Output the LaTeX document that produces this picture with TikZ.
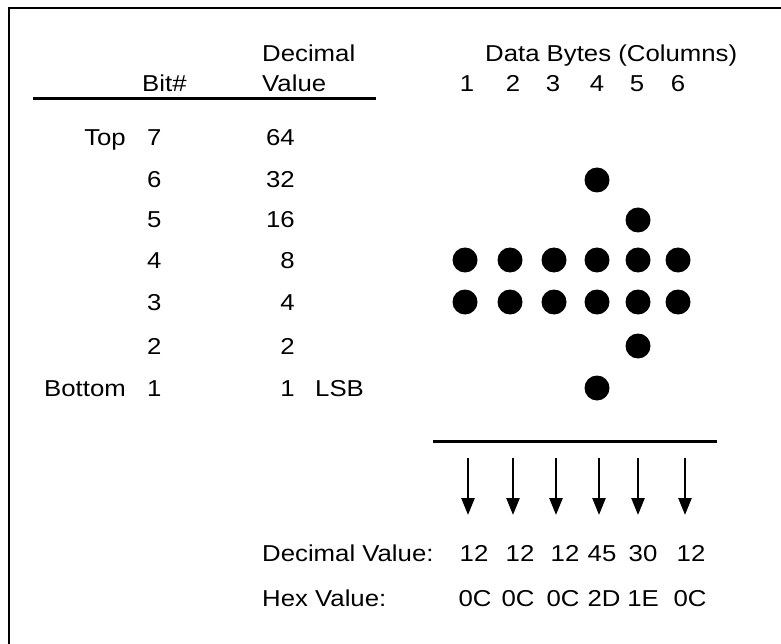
\documentclass[tikz,border=0pt]{standalone}
\usepackage{fontspec}
\setmainfont[FakeStretch=1.12]{Liberation Sans}
\usetikzlibrary{arrows.meta}

\begin{document}
\begin{tikzpicture}[
    x=1pt, y=-1pt,
    every node/.style={inner sep=0pt, font=\fontsize{23}{27}\selectfont},
    txt/.style={anchor=base west},
    num/.style={anchor=base east},
    colnum/.style={anchor=base},
    dot/.style={circle, fill=black, minimum size=25pt, inner sep=0pt},
    rule/.style={line width=3pt},
    arrow/.style={-{Triangle[width=13pt,length=17pt]}, line width=2.5pt}
]
\useasboundingbox (0,0) rectangle (781,644);

% Frame
\draw[line width=2.5pt] (9,644) -- (9,8) -- (781,8);

% Table header
\node[txt] (hdbit) at (142,92) {Bit\#};
\node[txt] (hddec) at (262,62) {Decimal};
\node[txt] (hdval) at (262,92) {Value};
\draw[rule] (33,99) -- (376,99);

% Bit rows
\node[num] (top) at (126,146) {Top};
\node[txt] (bit7) at (147,146) {7};
\node[num] (val7) at (295,146) {64};
\node[txt] (bit6) at (147,188) {6};
\node[num] (val6) at (295,188) {32};
\node[txt] (bit5) at (147,228) {5};
\node[num] (val5) at (295,228) {16};
\node[txt] (bit4) at (147,269) {4};
\node[num] (val4) at (295,269) {8};
\node[txt] (bit3) at (147,310) {3};
\node[num] (val3) at (295,310) {4};
\node[txt] (bit2) at (147,354) {2};
\node[num] (val2) at (295,354) {2};
\node[num] (bottom) at (126,396) {Bottom};
\node[txt] (bit1) at (147,396) {1};
\node[num] (val1) at (295,396) {1};
\node[txt] (lsb) at (315,396) {LSB};

% Column header
\node[txt] (hddata) at (485,62) {Data Bytes (Columns)};
\node[colnum] (col1) at (467,92) {1};
\node[colnum] (col2) at (513,92) {2};
\node[colnum] (col3) at (553,92) {3};
\node[colnum] (col4) at (597,92) {4};
\node[colnum] (col5) at (637,92) {5};
\node[colnum] (col6) at (678,92) {6};

% Dots
\node[dot] (dot64) at (597,180) {};
\node[dot] (dot55) at (638,220) {};
\node[dot] (dot41) at (465,260) {};
\node[dot] (dot42) at (510,260) {};
\node[dot] (dot43) at (554,260) {};
\node[dot] (dot44) at (597,260) {};
\node[dot] (dot45) at (638,260) {};
\node[dot] (dot46) at (678,260) {};
\node[dot] (dot31) at (465,302) {};
\node[dot] (dot32) at (510,302) {};
\node[dot] (dot33) at (554,302) {};
\node[dot] (dot34) at (597,302) {};
\node[dot] (dot35) at (638,302) {};
\node[dot] (dot36) at (678,302) {};
\node[dot] (dot25) at (638,346) {};
\node[dot] (dot14) at (597,388) {};

% Rule and arrows
\draw[rule] (433,441) -- (717,441);
\coordinate (drop1s) at (468,458); \coordinate (drop1e) at (468,515);
\coordinate (drop2s) at (513,458); \coordinate (drop2e) at (513,515);
\coordinate (drop3s) at (556,458); \coordinate (drop3e) at (556,515);
\coordinate (drop4s) at (599,458); \coordinate (drop4e) at (599,515);
\coordinate (drop5s) at (638,458); \coordinate (drop5e) at (638,515);
\coordinate (drop6s) at (685,458); \coordinate (drop6e) at (685,515);
\draw[arrow] (drop1s) -- (drop1e);
\draw[arrow] (drop2s) -- (drop2e);
\draw[arrow] (drop3s) -- (drop3e);
\draw[arrow] (drop4s) -- (drop4e);
\draw[arrow] (drop5s) -- (drop5e);
\draw[arrow] (drop6s) -- (drop6e);

% Values
\node[txt] (declabel) at (262,561) {Decimal Value:};
\node[colnum] (dec1) at (474,561) {12};
\node[colnum] (dec2) at (520,561) {12};
\node[colnum] (dec3) at (565,561) {12};
\node[colnum] (dec4) at (602,561) {45};
\node[colnum] (dec5) at (643,561) {30};
\node[colnum] (dec6) at (691,561) {12};
\node[txt] (hexlabel) at (262,606) {Hex Value:};
\node[colnum] (hex1) at (475,606) {0C};
\node[colnum] (hex2) at (518,606) {0C};
\node[colnum] (hex3) at (563,606) {0C};
\node[colnum] (hex4) at (604,606) {2D};
\node[colnum] (hex5) at (643,606) {1E};
\node[colnum] (hex6) at (690,606) {0C};

\end{tikzpicture}
\end{document}
